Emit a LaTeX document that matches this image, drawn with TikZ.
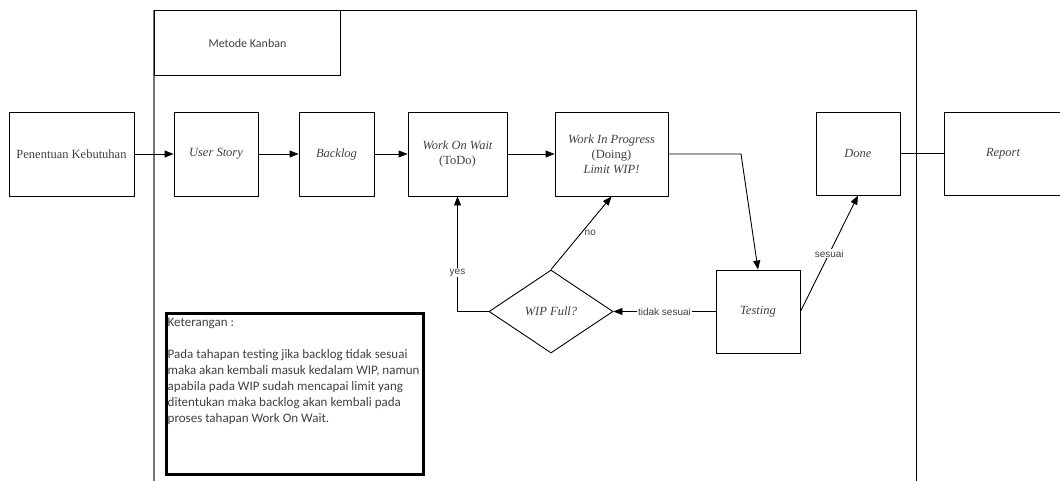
\documentclass[tikz,border=0pt]{standalone}
\usepackage{fontspec}
\setmainfont{Liberation Serif}
\newfontfamily\calfont{Carlito}
\newfontfamily\arialfont{Liberation Sans}
\usetikzlibrary{arrows.meta,shapes.geometric}
\definecolor{txtgrey}{rgb}{0.25,0.25,0.25}
\definecolor{framegrey}{rgb}{0.45,0.45,0.45}
\tikzset{
    stagebox/.style={draw, line width=0.9pt, inner sep=0pt, align=center, text=txtgrey, font=\fontsize{12.5}{15}\selectfont},
    flowarr/.style={line width=0.9pt, -{Triangle[length=9pt,width=7pt]}},
    flowlbl/.style={font=\arialfont\fontsize{10}{12}\selectfont, text=txtgrey, fill=white, inner sep=1pt}
}
\begin{document}
\begin{tikzpicture}[x=1pt,y=-1pt]
        \useasboundingbox (0,0) rectangle (1060,480);
        \clip (0,0) rectangle (1060,480);
        % frame of the method
        \draw[line width=0.9pt] (154,10) -- (916,10) -- (916,481);
        \draw[line width=1.6pt, draw=framegrey] (154,481) -- (154,10);
        \node[draw, line width=0.9pt, minimum width=186pt, minimum height=65pt, anchor=north west, font=\calfont\fontsize{12}{14}\selectfont, text=txtgrey] (title) at (154,10) {Metode Kanban};
        % stages
        \node[stagebox, minimum width=125pt, minimum height=84pt] (need) at (71.5,154) {Penentuan Kebutuhan};
        \node[stagebox, minimum width=84pt, minimum height=84pt] (story) at (216,154) {\itshape User Story};
        \node[stagebox, minimum width=75pt, minimum height=84pt] (backlog) at (336.5,154) {\itshape Backlog};
        \node[stagebox, minimum width=99pt, minimum height=84pt] (wait) at (457.5,154) {\itshape Work On Wait\\(ToDo)};
        \node[stagebox, minimum width=113pt, minimum height=84pt] (progress) at (611.5,154) {\itshape Work In Progress\\(Doing)\\\itshape Limit WIP!};
        \node[stagebox, minimum width=84pt, minimum height=83pt] (done) at (858,153.5) {\itshape Done};
        \node[stagebox, minimum width=118pt, minimum height=83pt] (report) at (1003,153.5) {\itshape Report};
        \node[stagebox, minimum width=84pt, minimum height=83pt] (testing) at (758,311.5) {\itshape Testing};
        \node[stagebox, shape=diamond, minimum width=124pt, minimum height=83pt] (full) at (551,311.5) {\itshape WIP Full?};
        \coordinate (bend) at (741,154);
        % connectors
        \draw[flowarr] (need) -- (story);
        \draw[flowarr] (story) -- (backlog);
        \draw[flowarr] (backlog) -- (wait);
        \draw[flowarr] (wait) -- (progress);
        \draw[flowarr] (progress.east) -- (bend) -- (testing.north);
        \draw[flowarr] (testing.west) -- node[flowlbl] {tidak sesuai} (full.east);
        \draw[flowarr] (full.west) -| node[flowlbl, pos=0.67] {yes} (wait.south);
        \draw[flowarr] (full.north) -- node[flowlbl, right, pos=0.5, xshift=2pt, fill=none] {no} (progress.south);
        \draw[flowarr] (testing.east) -- node[flowlbl] {sesuai} (done.south);
        \draw[line width=0.9pt] (done) -- (report);
        % note
        \node[draw, line width=2.6pt, minimum width=257pt, minimum height=161pt, anchor=north west] (note) at (165,312) {};
        \node[anchor=north west, inner sep=0pt, xshift=2.5pt, yshift=-6pt, align=left, text=txtgrey, font=\calfont\fontsize{13}{16}\selectfont] (notetext) at (note.north west) {Keterangan :\\[16pt]Pada tahapan testing jika backlog tidak sesuai\\maka akan kembali masuk kedalam WIP, namun\\apabila pada WIP sudah mencapai limit yang\\ditentukan maka backlog akan kembali pada\\proses tahapan Work On Wait.};
    \end{tikzpicture}
\end{document}
